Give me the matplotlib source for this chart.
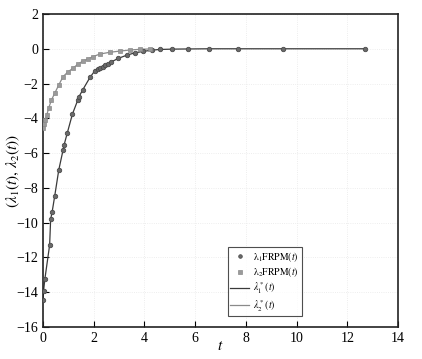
import numpy as np
import matplotlib.pyplot as plt

plt.rcParams["font.family"] = ["Liberation Serif", "DejaVu Serif"]
plt.rcParams["mathtext.fontset"] = "stix"

# lambda_1 FRPM nodes (t, value)
t1 = [0.0, 0.02, 0.07, 0.26, 0.30, 0.36, 0.46, 0.62, 0.79, 0.83, 0.96,
      1.16, 1.37, 1.42, 1.57, 1.85, 2.05, 2.15, 2.25, 2.35, 2.45, 2.55,
      2.70, 2.97, 3.30, 3.63, 3.96, 4.28, 4.60, 5.09, 5.73, 6.56, 7.70,
      9.45, 12.70]
lam1 = [-14.45, -13.93, -13.26, -11.28, -9.80, -9.37, -8.47, -6.97, -5.82,
        -5.53, -4.82, -3.75, -2.95, -2.75, -2.35, -1.65, -1.25, -1.15, -1.10,
        -1.02, -0.95, -0.88, -0.75, -0.55, -0.37, -0.23, -0.15, -0.08, -0.04,
        -0.02, -0.01, 0.0, 0.0, 0.0, 0.0]

# lambda_2 FRPM nodes
t2 = [0.0, 0.03, 0.08, 0.15, 0.22, 0.33, 0.46, 0.62, 0.79, 0.99, 1.18,
      1.38, 1.58, 1.77, 1.97, 2.25, 2.64, 3.04, 3.43, 3.82, 4.2]
lam2 = [-4.55, -4.35, -4.10, -3.80, -3.42, -2.95, -2.56, -2.08, -1.60, -1.32,
        -1.12, -0.88, -0.70, -0.59, -0.45, -0.30, -0.20, -0.13, -0.07, -0.03,
        -0.01]

fig = plt.figure(figsize=(4.22, 3.59), dpi=100)
ax = fig.add_axes([0.102, 0.089, 0.841, 0.872])

ax.plot(t1, lam1, color="#3a3a3a", lw=0.9, label=r"$\lambda^*_1(t)$", zorder=2)
ax.plot(t2, lam2, color="#8a8a8a", lw=0.9, label=r"$\lambda^*_2(t)$", zorder=2)
ax.plot(t1, lam1, "o", ms=3.2, mfc="#6a6a6a", mec="#4a4a4a", mew=0.6,
        ls="none", label=r"$\mathrm{\lambda_1FRPM}(t)$", zorder=3)
ax.plot(t2, lam2, "s", ms=3.0, mfc="#9a9a9a", mec="#8a8a8a", mew=0.5,
        ls="none", label=r"$\mathrm{\lambda_2FRPM}(t)$", zorder=3)

ax.set_xlim(0, 14)
ax.set_ylim(-16, 2)
ax.set_xticks(np.arange(0, 15, 2))
ax.set_yticks(np.arange(-16, 3, 2))
ax.set_yticklabels([str(v).replace("-", "\u2212") for v in range(-16, 3, 2)])
ax.tick_params(direction="in", length=4, labelsize=10, top=False, right=False)
ax.grid(True, color="#e8e8e8", lw=0.6, ls=":")
for s in ax.spines.values():
    s.set_linewidth(1.2)
    s.set_color("#222222")

ax.set_xlabel(r"$t$", fontsize=11)
ax.set_ylabel(r"$(\lambda_1(t),\, \lambda_2(t))$", fontsize=11)
ax.xaxis.set_label_coords(0.5, -0.04)
ax.yaxis.set_label_coords(-0.06, 0.5)

h, l = ax.get_legend_handles_labels()
order = [2, 3, 0, 1]
leg = ax.legend([h[i] for i in order], [l[i] for i in order],
                loc="lower left", bbox_to_anchor=(0.52, 0.035), fontsize=7,
                frameon=True, fancybox=False, edgecolor="#222222",
                handlelength=2.0, borderpad=0.25, labelspacing=0.15,
                handletextpad=0.4, markerscale=0.8, borderaxespad=0)
leg.get_frame().set_linewidth(0.8)

fig.savefig("out.png", dpi=100)
